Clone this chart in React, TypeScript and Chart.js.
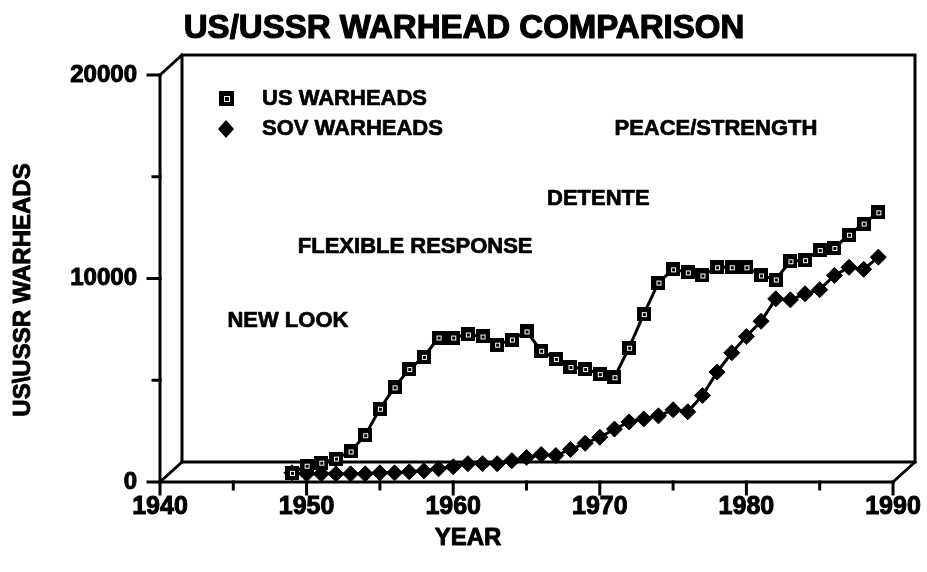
import React, { useEffect, useRef } from 'react';
import { Chart, registerables } from 'chart.js';

Chart.register(...registerables);

const years = [
  1949, 1950, 1951, 1952, 1953, 1954, 1955, 1956, 1957, 1958,
  1959, 1960, 1961, 1962, 1963, 1964, 1965, 1966, 1967, 1968,
  1969, 1970, 1971, 1972, 1973, 1974, 1975, 1976, 1977, 1978,
  1979, 1980, 1981, 1982, 1983, 1984, 1985, 1986, 1987, 1988, 1989,
];

const usWarheads = [
  450, 800, 950, 1150, 1500, 2300, 3600, 4650, 5550, 6150,
  7100, 7100, 7250, 7150, 6750, 7000, 7400, 6450, 6050, 5650,
  5550, 5300, 5150, 6600, 8250, 9800, 10450, 10300, 10150, 10550,
  10550, 10550, 10150, 9950, 10850, 10900, 11400, 11500, 12150, 12700, 13250,
];

const sovWarheads = [
  450, 400, 400, 400, 400, 400, 450, 450, 500, 550,
  650, 750, 900, 900, 900, 1050, 1200, 1350, 1300, 1600,
  1900, 2200, 2600, 2950, 3100, 3250, 3550, 3450, 4250, 5400,
  6350, 7150, 7900, 9000, 8950, 9250, 9450, 10150, 10550, 10450, 11050,
];

const xLabelYears = [1940, 1950, 1960, 1970, 1980, 1990];
const yLabelValues = [0, 10000, 20000];

const chartTitle = 'US/USSR WARHEAD COMPARISON';
const xTitle = 'YEAR';
const yTitle = 'US\\USSR WARHEADS';
const seriesNames = ['US WARHEADS', 'SOV WARHEADS'];

const eraLabels = ['NEW LOOK', 'FLEXIBLE RESPONSE', 'DETENTE', 'PEACE/STRENGTH'];
const eraYears = [1944.6, 1949.4, 1966.4, 1971.0];
const eraLevels = [7900, 11550, 13900, 17350];

const FONT = "'Liberation Sans', Arial, Helvetica, sans-serif";
const DX = 22;
const DY = -20;

function makeUsMarker(size: number) {
  const c = document.createElement('canvas');
  c.width = size;
  c.height = size;
  const g = c.getContext('2d')!;
  g.fillStyle = '#000';
  g.fillRect(0, 0, size, size);
  g.strokeStyle = '#fff';
  g.lineWidth = 1;
  const inner = Math.round(size * 0.3);
  const off = Math.floor((size - inner) / 2) + 0.5;
  g.strokeRect(off, off, inner, inner);
  return c;
}

export default function App() {
  const ref = useRef<HTMLCanvasElement | null>(null);

  useEffect(() => {
    const canvas = ref.current;
    if (!canvas) return;
    const usMark = makeUsMarker(14);
    const usLegendMark = makeUsMarker(15);

    const boldText = (ctx: CanvasRenderingContext2D, text: string, x: number, y: number, w: number) => {
      ctx.fillText(text, x, y);
      ctx.lineWidth = w;
      ctx.lineJoin = 'round';
      ctx.strokeStyle = '#000';
      ctx.strokeText(text, x, y);
    };

    const framePlugin = {
      id: 'frame3d',
      beforeDatasetsDraw(chart: any) {
        const { ctx, chartArea, scales } = chart;
        const { left, right, top, bottom } = chartArea;
        const xs = scales.x;
        const ys = scales.y;
        ctx.save();
        ctx.strokeStyle = '#000';
        ctx.lineWidth = 3;
        ctx.lineCap = 'square';
        const seg = (x1: number, y1: number, x2: number, y2: number) => {
          ctx.beginPath();
          ctx.moveTo(x1, y1);
          ctx.lineTo(x2, y2);
          ctx.stroke();
        };
        ctx.strokeRect(left + DX, top + DY, right - left, bottom - top);
        seg(left, top, left, bottom);
        seg(left, bottom, right, bottom);
        seg(left, top, left + DX, top + DY);
        seg(left, bottom, left + DX, bottom + DY);
        seg(right, bottom, right + DX, bottom + DY);
        xs.ticks.forEach((t: any) => {
          const px = xs.getPixelForValue(t.value);
          const major = xLabelYears.includes(t.value);
          seg(px, bottom, px, bottom + (major ? 12 : 7));
        });
        ys.ticks.forEach((t: any) => {
          const py = ys.getPixelForValue(t.value);
          const major = yLabelValues.includes(t.value);
          seg(left - (major ? 12 : 7), py, left, py);
        });
        ctx.restore();
      },
      afterDatasetsDraw(chart: any) {
        const { ctx, scales } = chart;
        const xs = scales.x;
        const ys = scales.y;
        ctx.save();
        ctx.fillStyle = '#000';
        ctx.textBaseline = 'middle';
        // chart title
        ctx.textAlign = 'center';
        ctx.font = `bold 33px ${FONT}`;
        boldText(ctx, chartTitle, 464, 29, 1.2);
        // legend
        ctx.textAlign = 'left';
        ctx.font = `bold 22px ${FONT}`;
        ctx.drawImage(usLegendMark, 226 - 7, 98 - 7);
        boldText(ctx, seriesNames[0], 262, 99, 0.7);
        ctx.beginPath();
        ctx.moveTo(226, 120);
        ctx.lineTo(234, 129);
        ctx.lineTo(226, 138);
        ctx.lineTo(218, 129);
        ctx.closePath();
        ctx.fill();
        boldText(ctx, seriesNames[1], 262, 129, 0.7);
        // era annotations
        eraLabels.forEach((label, i) => {
          boldText(ctx, label, xs.getPixelForValue(eraYears[i]), ys.getPixelForValue(eraLevels[i]), 0.7);
        });
        // axis titles
        ctx.font = `bold 24px ${FONT}`;
        ctx.textAlign = 'center';
        boldText(ctx, xTitle, 468, 538, 0.9);
        ctx.translate(23, 290);
        ctx.rotate(-Math.PI / 2);
        boldText(ctx, yTitle, 0, 0, 0.9);
        ctx.restore();
      },
    };

    const chart = new Chart(canvas, {
      type: 'line',
      data: {
        datasets: [
          {
            label: seriesNames[0],
            data: years.map((yr, i) => ({ x: yr, y: usWarheads[i] })),
            borderColor: '#000',
            borderWidth: 3,
            pointStyle: usMark as any,
            pointRadius: 7,
            backgroundColor: '#000',
            tension: 0,
          },
          {
            label: seriesNames[1],
            data: years.map((yr, i) => ({ x: yr, y: sovWarheads[i] })),
            borderColor: '#000',
            borderWidth: 3,
            pointStyle: 'rectRot',
            pointRadius: 8,
            pointBackgroundColor: '#000',
            pointBorderColor: '#000',
            pointBorderWidth: 1,
            backgroundColor: '#000',
            tension: 0,
          },
        ],
      },
      options: {
        responsive: false,
        animation: false,
        layout: { padding: { left: 0, right: 34, top: 75, bottom: 0 } },
        plugins: {
          legend: { display: false },
          tooltip: { enabled: false },
          title: { display: false },
        },
        scales: {
          x: {
            type: 'linear',
            min: 1940,
            max: 1990,
            grid: { display: false, drawTicks: true, tickLength: 10 },
            border: { display: false },
            ticks: {
              stepSize: 5,
              padding: 0,
              color: '#000',
              maxRotation: 0,
              autoSkip: false,
              textStrokeColor: '#000',
              textStrokeWidth: 1,
              font: { family: FONT, size: 25, weight: 'bold' },
              callback: (v: any) => (xLabelYears.includes(Number(v)) ? String(v) : ''),
            },
            afterFit: (s: any) => {
              s.height = 90;
            },
          },
          y: {
            type: 'linear',
            min: 0,
            max: 20000,
            grid: { display: false, drawTicks: true, tickLength: 12 },
            border: { display: false },
            ticks: {
              stepSize: 5000,
              padding: 11,
              color: '#000',
              autoSkip: false,
              textStrokeColor: '#000',
              textStrokeWidth: 1,
              font: { family: FONT, size: 24, weight: 'bold' },
              callback: (v: any) => (yLabelValues.includes(Number(v)) ? String(v) : ''),
            },
            afterFit: (s: any) => {
              s.width = 160;
            },
          },
        },
      },
      plugins: [framePlugin],
    });
    return () => chart.destroy();
  }, []);

  return (
    <div style={{ position: 'absolute', left: 0, top: 0, width: 927, height: 572, background: '#fff' }}>
      <canvas ref={ref} width={927} height={572} style={{ display: 'block' }} />
    </div>
  );
}
